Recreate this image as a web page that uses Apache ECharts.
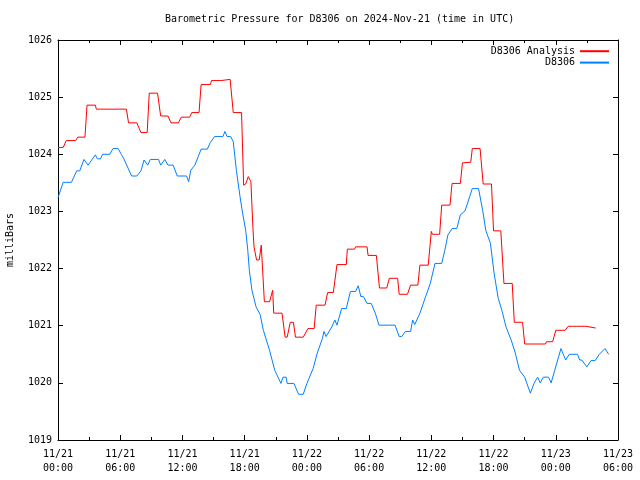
<!DOCTYPE html>
<html>
<head>
<meta charset="utf-8">
<script src="https://cdn.jsdelivr.net/npm/echarts@6/dist/echarts.min.js"></script>
<style>html,body{margin:0;padding:0;background:#fff}#c{width:640px;height:480px}</style>
</head>
<body>
<div id="c"></div>
<script>
// X tick labels (every 6 hours from 2024-11-21 00:00 UTC)
const xTickLabels = ['11/21\n00:00','11/21\n06:00','11/21\n12:00','11/21\n18:00','11/22\n00:00','11/22\n06:00','11/22\n12:00','11/22\n18:00','11/23\n00:00','11/23\n06:00'];
const seriesNames = ['D8306 Analysis', 'D8306'];

// D8306 Analysis: hours since 11/21 00:00 UTC, pressure (mbar)
const analysisHours = [0,0.5,0.8,1.7,1.9,2.6,2.8,3.6,3.7,6.6,6.8,7.6,8.0,8.6,8.8,9.6,9.9,10.6,10.9,11.6,11.9,12.7,12.9,13.6,13.8,14.7,14.8,15.7,15.8,16.6,16.9,17.7,17.9,18.1,18.35,18.6,18.8,18.9,19.15,19.4,19.6,19.9,20.4,20.7,20.8,21.6,21.9,22.1,22.4,22.7,22.9,23.65,24.1,24.7,24.9,25.75,26.0,26.55,26.9,27.8,27.9,28.6,28.7,29.8,29.9,30.7,31.0,31.7,31.95,32.75,32.9,33.7,34.0,34.7,34.9,35.7,36.0,36.1,36.8,37.0,37.8,38.0,38.8,39.0,39.8,39.95,40.7,41.0,41.8,42.0,42.7,43.0,43.8,44.0,44.8,45.0,47.0,47.1,47.7,48.0,48.9,49.2,49.6,49.7,50.0,50.9,51.0,51.85];
const analysisValues = [1024.12,1024.12,1024.24,1024.24,1024.30,1024.30,1024.86,1024.86,1024.79,1024.79,1024.55,1024.55,1024.38,1024.38,1025.07,1025.07,1024.67,1024.67,1024.55,1024.55,1024.65,1024.65,1024.73,1024.73,1025.22,1025.22,1025.29,1025.29,1025.31,1025.31,1024.73,1024.73,1023.46,1023.48,1023.61,1023.52,1022.70,1022.38,1022.15,1022.15,1022.41,1021.42,1021.42,1021.62,1021.22,1021.22,1020.80,1020.80,1021.06,1021.06,1020.80,1020.80,1020.95,1020.95,1021.36,1021.36,1021.58,1021.58,1022.07,1022.07,1022.34,1022.34,1022.38,1022.38,1022.23,1022.23,1021.66,1021.66,1021.83,1021.83,1021.55,1021.55,1021.71,1021.71,1022.06,1022.06,1022.65,1022.60,1022.60,1023.11,1023.11,1023.49,1023.49,1023.85,1023.86,1024.10,1024.10,1023.48,1023.48,1022.66,1022.66,1021.74,1021.74,1021.06,1021.06,1020.68,1020.68,1020.72,1020.72,1020.92,1020.92,1020.99,1020.99,1020.96,1020.99,1020.99,1020.96,1020.96];

// D8306 observations
const obsHours = [0,0.1,0.5,1.3,1.8,2.1,2.5,2.9,3.6,3.8,4.1,4.3,5.0,5.3,5.8,6.1,6.3,7.1,7.6,8.0,8.3,8.65,8.9,9.7,9.9,10.3,10.6,11.1,11.5,12.4,12.6,12.8,13.2,13.8,14.4,14.7,15.1,15.9,16.1,16.3,16.65,16.9,17.2,17.55,17.8,18.1,18.3,18.45,18.7,19.1,19.5,19.8,20.4,20.9,21.5,21.7,22.0,22.1,22.75,23.2,23.65,24.0,24.6,25.0,25.5,25.65,25.85,26.4,26.7,26.9,27.35,27.8,28.2,28.7,28.95,29.2,29.45,29.8,30.2,30.6,30.95,32.5,32.9,33.15,33.5,34.0,34.2,34.4,34.9,35.45,35.9,36.35,37.0,37.3,37.6,38.0,38.45,38.8,39.25,39.7,39.95,40.55,40.95,41.25,41.7,42.05,42.45,42.8,43.2,43.7,44.1,44.5,45.0,45.55,45.9,46.25,46.5,46.8,47.3,47.55,47.9,48.5,48.95,49.3,50.1,50.3,50.5,51.0,51.4,51.8,52.2,52.75,53.1];
const obsValues = [1023.24,1023.26,1023.51,1023.51,1023.71,1023.71,1023.91,1023.81,1023.99,1023.92,1023.92,1024.00,1024.00,1024.10,1024.10,1024.00,1023.94,1023.62,1023.62,1023.71,1023.90,1023.81,1023.91,1023.91,1023.81,1023.91,1023.81,1023.81,1023.62,1023.62,1023.52,1023.72,1023.81,1024.09,1024.09,1024.21,1024.31,1024.31,1024.40,1024.31,1024.31,1024.22,1023.72,1023.26,1022.97,1022.67,1022.32,1021.97,1021.62,1021.33,1021.19,1020.92,1020.57,1020.22,1019.99,1020.10,1020.10,1019.99,1019.99,1019.80,1019.80,1019.99,1020.25,1020.52,1020.78,1020.90,1020.81,1020.98,1021.10,1021.01,1021.30,1021.30,1021.60,1021.60,1021.70,1021.51,1021.51,1021.39,1021.39,1021.22,1021.01,1021.01,1020.81,1020.81,1020.90,1020.90,1021.10,1021.02,1021.22,1021.51,1021.74,1022.09,1022.09,1022.32,1022.59,1022.70,1022.70,1022.94,1023.01,1023.26,1023.40,1023.40,1023.02,1022.67,1022.44,1021.92,1021.48,1021.27,1020.98,1020.75,1020.52,1020.22,1020.10,1019.82,1019.99,1020.10,1020.00,1020.10,1020.10,1020.00,1020.22,1020.60,1020.40,1020.50,1020.50,1020.40,1020.40,1020.28,1020.39,1020.39,1020.50,1020.60,1020.50];

const FONT = 'DejaVu Sans Mono';
const zip = (a, b) => a.map((t, i) => [t, b[i]]);

const chart = echarts.init(document.getElementById('c'), null, {renderer: 'canvas'});
const baseX = {
  type: 'value', min: 0, max: 54, interval: 6,
  axisLine: {show: true, onZero: false, lineStyle: {color: '#000', width: 1}},
  axisTick: {show: true, inside: true, length: 5, lineStyle: {color: '#000'}},
  minorTick: {show: true, splitNumber: 2, length: 3, lineStyle: {color: '#000'}},
  splitLine: {show: false}
};
const baseY = {
  type: 'value', min: 1019, max: 1026, interval: 1,
  axisLine: {show: true, onZero: false, lineStyle: {color: '#000', width: 1}},
  axisTick: {show: true, inside: true, length: 5, lineStyle: {color: '#000'}},
  splitLine: {show: false}
};
chart.setOption({
  animation: false,
  backgroundColor: '#fff',
  title: {
    text: 'Barometric Pressure for D8306 on 2024-Nov-21 (time in UTC)',
    left: 160, top: 9,
    textStyle: {fontFamily: FONT, fontSize: 10, fontWeight: 'normal', color: '#000'}
  },
  legend: {
    data: seriesNames,
    orient: 'vertical', right: 25, top: 41, align: 'right',
    itemWidth: 29, itemHeight: 13, itemGap: 1,
    itemStyle: {opacity: 0},
    textStyle: {fontFamily: FONT, fontSize: 10, color: '#000'}
  },
  grid: {left: 58, right: 22, top: 40, bottom: 40, containLabel: false, outerBoundsMode: 'none'},
  xAxis: [
    Object.assign({}, baseX, {
      position: 'bottom',
      axisLabel: {
        margin: 7, fontFamily: FONT, fontSize: 10, color: '#000', lineHeight: 14,
        formatter: v => xTickLabels[Math.round(v / 6)] || ''
      }
    }),
    Object.assign({}, baseX, {position: 'top', axisLabel: {show: false}})
  ],
  yAxis: [
    Object.assign({}, baseY, {
      position: 'left',
      name: 'milliBars', nameLocation: 'middle', nameRotate: 90, nameGap: 43,
      nameTextStyle: {fontFamily: FONT, fontSize: 10, color: '#000'},
      axisLabel: {margin: 6, fontFamily: FONT, fontSize: 10, color: '#000', formatter: v => String(v)}
    }),
    Object.assign({}, baseY, {position: 'right', axisLabel: {show: false}})
  ],
  series: [
    {
      name: seriesNames[0], type: 'line', xAxisIndex: 0, yAxisIndex: 0,
      data: zip(analysisHours, analysisValues),
      symbol: 'none', lineStyle: {color: '#ff0000', width: 1}, itemStyle: {color: '#ff0000'}
    },
    {
      name: seriesNames[1], type: 'line', xAxisIndex: 0, yAxisIndex: 0,
      data: zip(obsHours, obsValues),
      symbol: 'none', lineStyle: {color: '#0080ff', width: 1}, itemStyle: {color: '#0080ff'}
    }
  ]
});
</script>
</body>
</html>
